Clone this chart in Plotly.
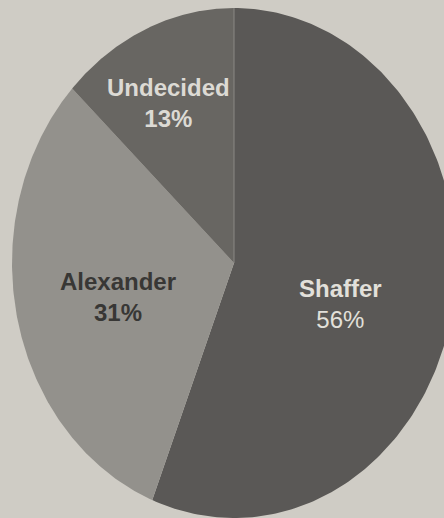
import numpy as np
import plotly.graph_objects as go

# Data
categories = ["Shaffer", "Alexander", "Undecided"]
values = [56, 31, 13]
labels_text = ["<b>Shaffer</b><br>56%", "<b>Alexander</b><br><b>31%</b>", "<b>Undecided</b><br><b>13%</b>"]

# Style
slice_colors = ["#5a5856", "#93918c", "#686662"]
text_colors = ["#e2e0da", "#383735", "#dcdad4"]
bg = "#cfccc5"

fig = go.Figure()
total = sum(values)
start = 0.0
for cat, v, col in zip(categories, values, slice_colors):
    a0 = start / total * 2 * np.pi
    a1 = (start + v) / total * 2 * np.pi
    th = np.linspace(a0, a1, 200)
    xs = np.concatenate([[0], np.sin(th), [0]])
    ys = np.concatenate([[0], np.cos(th), [0]])
    fig.add_trace(go.Scatter(x=xs, y=ys, fill="toself", fillcolor=col,
                             mode="lines", line=dict(width=0, color=col),
                             name=cat, hoverinfo="name", showlegend=False))
    start += v

# thin light divider at the start angle (12 o'clock)
fig.add_trace(go.Scatter(x=[0, 0], y=[0, 1], mode="lines",
                         line=dict(color="#8a8884", width=1),
                         hoverinfo="skip", showlegend=False))

# label placements (paper coords, y from bottom)
label_pos = {"Shaffer": (340 / 444, 1 - 304 / 518), "Alexander": (118 / 444, 1 - 297 / 518),
             "Undecided": (168 / 444, 1 - 103 / 518)}
for cat, txt, tc in zip(categories, labels_text, text_colors):
    px, py = label_pos[cat]
    fig.add_annotation(x=px, y=py, xref="paper", yref="paper", text=txt,
                       xanchor="center", yanchor="middle",
                       showarrow=False, align="center",
                       font=dict(family="Liberation Sans, Arial, sans-serif",
                                 size=24, color=tc))

fig.update_layout(
    width=444, height=518,
    margin=dict(l=0, r=0, t=0, b=0, pad=0),
    paper_bgcolor=bg, plot_bgcolor=bg,
    xaxis=dict(range=[-234 / 222, (444 - 234) / 222], visible=False, fixedrange=True),
    yaxis=dict(range=[-(518 - 263) / 255, 263 / 255], visible=False, fixedrange=True),
    showlegend=False,
)
fig.write_html("out.html", config={"displayModeBar": False},
               post_script="document.body.style.margin='0';document.body.style.background='%s';" % bg)
